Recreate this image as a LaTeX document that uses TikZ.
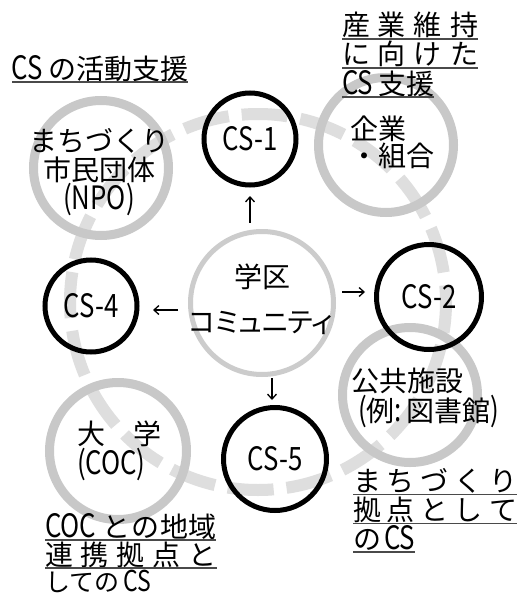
\documentclass[tikz,border=0pt]{standalone}
\usepackage{fontspec}
\setmainfont{Noto Sans CJK JP}
\newfontfamily\latf[FakeStretch=0.8,Scale=1.15]{Noto Sans CJK JP}
\newfontfamily\paltf[RawFeature=+palt]{Noto Sans CJK JP}
\newcommand\lat[1]{{\latf #1}}
\newcommand\bx[2]{\makebox[#1pt][l]{#2}}
\usetikzlibrary{arrows.meta}
\definecolor{ringgray}{HTML}{C8C8C8}
\definecolor{ringgrayb}{HTML}{CCCCCC}
\definecolor{dashgray}{HTML}{DEDEDE}
\definecolor{ulgray}{HTML}{4A4A4A}
\tikzset{
  txt/.style={inner sep=0pt, outer sep=0pt, font=\fontsize{28pt}{29pt}\selectfont},
  csring/.style={circle, draw=black, line width=5pt, inner sep=0pt, outer sep=0pt, font=\fontsize{28pt}{29pt}\selectfont\latf},
  grayring/.style={circle, draw=ringgray, line width=9pt, inner sep=0pt, outer sep=0pt},
  gkring/.style={circle, draw=ringgrayb, line width=5pt, inner sep=0pt, outer sep=0pt},
  dashcirc/.style={draw=dashgray, line width=12pt, dash pattern=on 46pt off 13pt, dash phase=15.3pt},
  arr/.style={line width=1.3pt, -{Straight Barb[length=5pt,width=9pt,line width=1.3pt]}},
  ul/.style={draw=ulgray, line width=1.4pt}
}
\begin{document}
\begin{tikzpicture}[x=1pt,y=-1pt]
\fill[white] (0,0) rectangle (520,594);
\useasboundingbox (0,0) rectangle (520,594);

% big dashed circle
\draw[dashcirc] (258,302) circle[radius=188];

% gray rings
\node[grayring, minimum size=135pt] (npo) at (101,168) {};
\node[grayring, minimum size=135pt] (kig) at (386,145) {};
\node[grayring, minimum size=137pt] (dai) at (118,451) {};
\node[grayring, minimum size=135pt] (kok) at (410,395) {};
\node[gkring, minimum size=143pt] (gk) at (262,303) {};

% CS circles
\node[csring, minimum size=92pt] (cs1) at (250,139) {CS-1};
\node[csring, minimum size=105pt] (cs2) at (429,297) {CS-2};
\node[csring, minimum size=92pt] (cs4) at (91,306) {CS-4};
\node[csring, minimum size=103pt] (cs5) at (275,459) {CS-5};

% texts inside circles
\node[txt, align=center, font=\fontsize{28pt}{29pt}\selectfont] (tnpo) at (99,172) {まちづくり\\市民団体\\\lat{(NPO)}};
\node[txt, align=left, anchor=west, font=\fontsize{28pt}{27.5pt}\selectfont] (tkig) at (350,142.5) {企業\\・組合};
\node[txt] (tgk1) at (262,277) {学区};
\node[txt, font=\fontsize{28pt}{29pt}\selectfont\paltf] (tgk2) at (261,323) {コミュニティ};
\node[txt, align=left, anchor=west, font=\fontsize{28pt}{28pt}\selectfont] (tdai) at (77,451) {大　学\\\lat{(COC)}};
\node[txt, align=left, anchor=west, font=\fontsize{28pt}{28pt}\selectfont] (tkok) at (351,398) {公共施設\\\kern7pt\lat{(}例\lat{:}\,図書館\lat{)}};

% arrows
\path ([yshift=5pt]cs2.west) coordinate (c2w);
\path ([yshift=-4pt]cs4.east) coordinate (c4e);
\path ([xshift=-3pt]cs5.north) coordinate (c5n);
\draw[arr, shorten <=9pt, shorten >=11pt] (cs1.south |- gk.north) -- (cs1.south);
\draw[arr, shorten <=8.5pt, shorten >=11.5pt] (gk.east |- c2w) -- (c2w);
\draw[arr, shorten <=12.5pt, shorten >=16pt] (gk.west |- c4e) -- (c4e);
\draw[arr, shorten <=3.5pt, shorten >=7.5pt] (c5n |- gk.south) -- (c5n);

% underlined labels
\node[txt, anchor=base west] (ltl) at (12,79) {\bx{36}{\lat{CS}}の活動支援};
\node[txt, anchor=base west] (lr1) at (342,36) {\bx{36}{産}\bx{36}{業}\bx{36}{維}持};
\node[txt, anchor=base west] (lr2) at (342,65) {\bx{36}{に}\bx{36}{向}\bx{36}{け}た};
\node[txt, anchor=base west] (lr3) at (342,94) {\bx{36}{\lat{CS}}支援};
\node[txt, anchor=base west] (lb1) at (45,537) {\bx{58}{\lat{COC}}\bx{29}{と}\bx{29}{の}\bx{27}{地}域};
\node[txt, anchor=base west] (lb2) at (45,565) {\bx{36}{連}\bx{36}{携}\bx{36}{拠}\bx{36}{点}と};
\node[txt, anchor=base west, font=\fontsize{25pt}{26pt}\selectfont] (lb3) at (45,591) {しての\,\lat{CS}};
\node[txt, anchor=base west] (lq1) at (353,491.5) {\bx{34}{ま}\bx{34}{ち}\bx{34}{づ}\bx{34}{く}り};
\node[txt, anchor=base west] (lq2) at (353,520.5) {\bx{34}{拠}\bx{34}{点}\bx{34}{と}\bx{34}{し}て};
\node[txt, anchor=base west] (lq3) at (353,549) {の\kern3pt\lat{CS}};

\foreach \n in {ltl,lr1,lr2,lr3,lb1,lb2,lq1,lq2,lq3}{
  \draw[ul] ([yshift=-3pt]\n.base west) -- ([yshift=-3pt]\n.base east);
}
\end{tikzpicture}
\end{document}
